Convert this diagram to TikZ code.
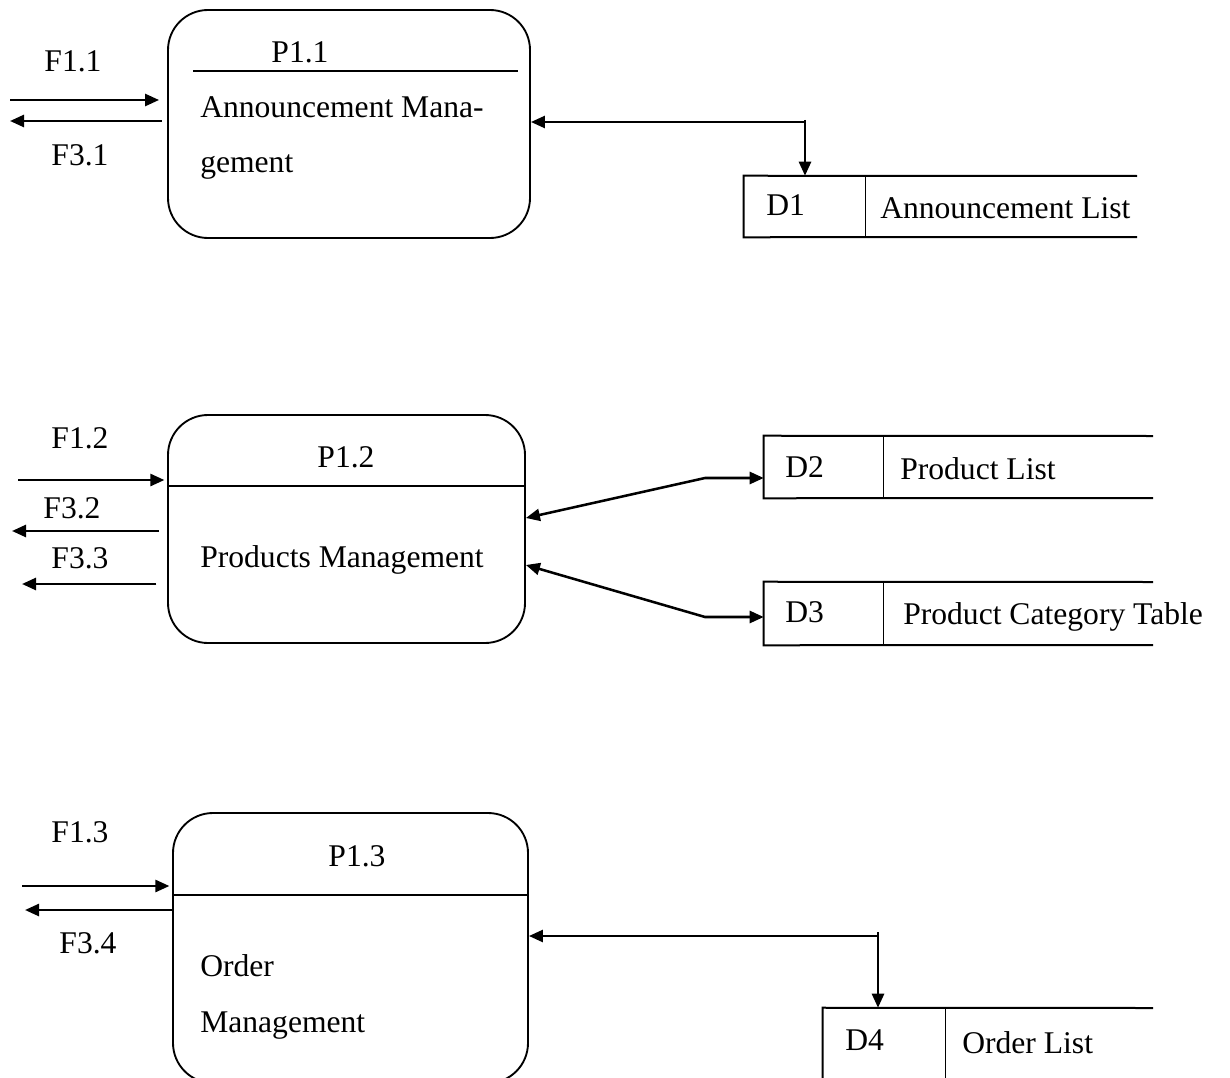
\documentclass[tikz,border=0pt]{standalone}
\usepackage{fontspec}
\setmainfont{Liberation Serif}
\usetikzlibrary{arrows.meta,fit}

\begin{document}
\begin{tikzpicture}[x=0.75pt,y=-0.75pt,
  lbl/.style={font=\fontsize{23.7}{28}\selectfont, inner sep=0pt, anchor=base},
  txt/.style={lbl, anchor=base west},
  proc/.style={draw, line width=1.4pt, rounded corners=30pt, inner sep=0pt},
  cell/.style={inner sep=0pt},
  tip/.style={Triangle[length=10.5pt,width=9pt]},
  flow/.style={line width=1.9pt, -{Triangle[length=10.5pt,width=9pt]}},
  dflow/.style={line width=1.9pt, {Triangle[length=10.5pt,width=9pt]}-{Triangle[length=10.5pt,width=9pt]}},
  rule/.style={line width=1.5pt},
  thinrule/.style={line width=1.1pt}]
\useasboundingbox (0,0) rectangle (1230,1077);
\clip (0,0) rectangle (1230,1077);

% ---------- processes ----------
\node[proc, fit={(168,10) (530,238)}] (p1) {};
\node[proc, fit={(168,415) (525,643)}] (p2) {};
\node[proc, fit={(173,813) (528,1083)}] (p3) {};

\draw[rule] (193,71) -- (518,71);
\draw[thinrule] (p2.west |- 0,486) -- (p2.east |- 0,486);
\draw[thinrule] (p3.west |- 0,895) -- (p3.east |- 0,895);

\node[lbl] (p1id) at (300,63) {P1.1};
\node[txt] (p1a) at (200,118) {Announcement Mana-};
\node[txt] (p1b) at (200,172) {gement};
\node[lbl] (p2id) at (346,467) {P1.2};
\node[txt] (p2a) at (200,567) {Products Management};
\node[lbl] (p3id) at (357,866) {P1.3};
\node[txt] (p3a) at (200,976) {Order};
\node[txt] (p3b) at (200,1032) {Management};

% ---------- data stores ----------
\node[cell, fit={(744,176) (865,237)}] (d1) {};
\node[cell, fit={(764,436) (883,498)}] (d2) {};
\node[cell, fit={(764,582) (883,645)}] (d3) {};
\node[cell, fit={(823,1008) (945,1090)}] (d4) {};

\draw[rule] (1137,176) -- (d1.north west) -- (d1.south west) -- (1137,237);
\draw[thinrule] (d1.north east) -- (d1.south east);
\draw[rule] (1153,436) -- (d2.north west) -- (d2.south west) -- (1153,498);
\draw[thinrule] (d2.north east) -- (d2.south east);
\draw[rule] (1153,582) -- (d3.north west) -- (d3.south west) -- (1153,645);
\draw[thinrule] (d3.north east) -- (d3.south east);
\draw[rule] (1153,1008) -- (d4.north west) -- (d4.south west);
\draw[thinrule] (d4.north east) -- (d4.south east);

\node[txt] (d1id) at (766,215) {D1};
\node[txt] (d1n) at (880,218) {Announcement List};
\node[txt] (d2id) at (785,477) {D2};
\node[txt] (d2n) at (900,479) {Product List};
\node[txt] (d3id) at (785,622) {D3};
\node[txt] (d3n) at (903,624) {Product Category Table};
\node[txt] (d4id) at (845,1050) {D4};
\node[txt] (d4n) at (962,1053) {Order List};

% ---------- external flows ----------
\node[lbl] (f11) at (73,72) {F1.1};
\node[lbl] (f31) at (80,166) {F3.1};
\node[lbl] (f12) at (80,448) {F1.2};
\node[lbl] (f32) at (72,518) {F3.2};
\node[lbl] (f33) at (80,568) {F3.3};
\node[lbl] (f13) at (80,842) {F1.3};
\node[lbl] (f34) at (88,953) {F3.4};

\coordinate (a11) at (10,100);
\coordinate (a31) at (10,121);
\coordinate (a12) at (18,480);
\coordinate (a32) at (12,531);
\coordinate (a33) at (22,584);
\coordinate (a13) at (22,886);
\coordinate (a34) at (25,910);

\draw[flow, shorten >=6pt] (a11) -- (p1.west |- a11);
\draw[flow, shorten <=4pt] (p1.west |- a31) -- (a31);
\draw[flow, shorten >=2pt] (a12) -- (p2.west |- a12);
\draw[flow, shorten <=6pt] (p2.west |- a32) -- (a32);
\draw[flow, shorten <=8pt] (p2.west |- a33) -- (a33);
\draw[flow, shorten >=2pt] (a13) -- (p3.west |- a13);
\draw[flow] (p3.west |- a34) -- (a34);

% ---------- store connectors ----------
\coordinate (j1) at (805,122);
\draw[flow] (j1) -- (p1.east |- j1);
\draw[flow] ([yshift=1.5pt]j1) -- (d1.north -| j1);

\coordinate (k2) at (705,478);
\draw[dflow] ([yshift=8.25pt]p2.east) -- (k2) -- (d2.west |- k2);
\coordinate (k3) at (705,617);
\draw[dflow] ([yshift=-27pt]p2.east) -- (k3) -- (d3.west |- k3);

\coordinate (j4) at (878,936);
\draw[flow] (j4) -- (p3.east |- j4);
\draw[flow] ([yshift=3pt]j4) -- (d4.north -| j4);
\end{tikzpicture}
\end{document}
